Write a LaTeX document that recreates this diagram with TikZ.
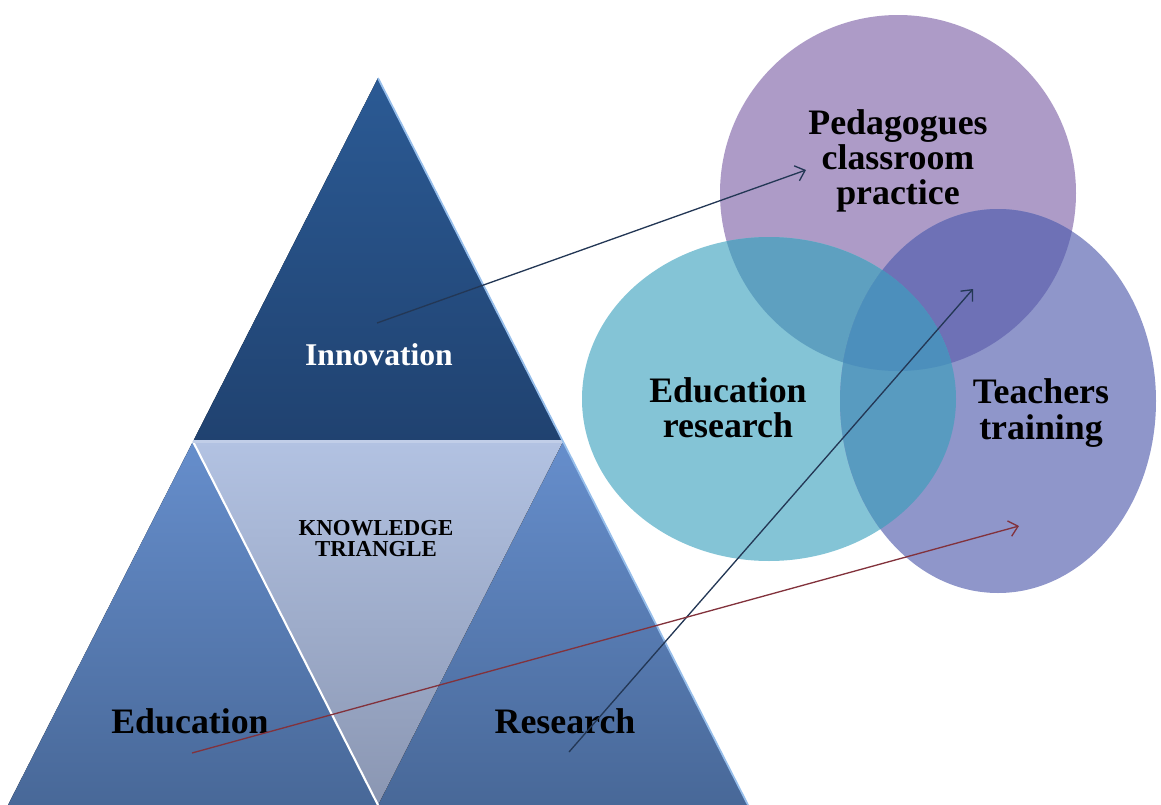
\documentclass[tikz,border=0pt]{standalone}
\usepackage{fontspec}
\setmainfont{Liberation Serif}
\usetikzlibrary{arrows,arrows.meta}
\usetikzlibrary{backgrounds,calc,positioning}

\definecolor{innoTop}{RGB}{43,90,148}
\definecolor{innoBot}{RGB}{32,66,112}
\definecolor{sideTop}{RGB}{102,142,204}
\definecolor{sideBot}{RGB}{72,104,152}
\definecolor{midTop}{RGB}{178,194,226}
\definecolor{midBot}{RGB}{138,150,178}
\definecolor{rimBlue}{RGB}{150,190,235}
\definecolor{pedC}{RGB}{173,155,199}
\definecolor{eduC}{RGB}{132,196,214}
\definecolor{teaC}{RGB}{143,150,202}
\definecolor{pedEdu}{RGB}{94,160,192}
\definecolor{pedTea}{RGB}{110,113,182}
\definecolor{eduTea}{RGB}{88,155,192}
\definecolor{allC}{RGB}{76,143,188}
\definecolor{navyA}{RGB}{35,55,85}
\definecolor{redA}{RGB}{130,50,60}

\tikzset{
    bareA/.style={draw=#1, line width=0.75pt, -{Straight Barb[length=5pt,width=9pt]}},
    bareA/.default={navyA}
}

\begin{document}
\begin{tikzpicture}[x=0.02cm, y=-0.02cm]
    \tikzstyle{every node}=[font=\bfseries, inner sep=0pt];
    \useasboundingbox (0,0) rectangle (1161,805);
    \def \pedPath {(898,193) circle [radius=178]}
    \def \eduPath {(769,399) ellipse [x radius=187, y radius=162]}
    \def \teaPath {(998,401) ellipse [x radius=158, y radius=192]}
    % knowledge triangle
    \coordinate (t1) at (378,78);
    \coordinate (t2) at (8,805);
    \coordinate (t3) at (748,805);
    \coordinate (m12) at ($(t1)!0.5!(t2)$);
    \coordinate (m13) at ($(t1)!0.5!(t3)$);
    \coordinate (m23) at ($(t2)!0.5!(t3)$);
    \fill[top color=innoTop, bottom color=innoBot] (t1) -- (m12) -- (m13) -- cycle;
    \fill[top color=sideTop, bottom color=sideBot] (m12) -- (t2) -- (m23) -- cycle;
    \fill[top color=sideTop, bottom color=sideBot] (m13) -- (m23) -- (t3) -- cycle;
    \fill[top color=midTop, bottom color=midBot] (m12) -- (m13) -- (m23) -- cycle;
    \draw[white, line width=1.2pt] (m12) -- (m23);
    \draw[midTop!80!white, line width=1.5pt] (m12) -- (m13);
    \draw[rimBlue, line width=1pt] (t1) -- (t3);
    % three circles
    \fill[pedC] \pedPath;
    \fill[eduC] \eduPath;
    \fill[teaC] \teaPath;
    \begin{scope}
        \clip \pedPath;
        \fill[pedEdu] \eduPath;
        \fill[pedTea] \teaPath;
        \clip \eduPath;
        \fill[allC] \teaPath;
    \end{scope}
    \begin{scope}
        \clip \eduPath;
        \clip \teaPath;
        \fill[eduTea] ($(769,399)+(-200,-200)$) rectangle ($(998,401)+(200,200)$);
        \clip \pedPath;
        \fill[allC] (600,150) rectangle (1160,600);
    \end{scope}
    % labels
    \node[white, font=\fontsize{18}{18}\selectfont\bfseries, anchor=base] (inno) at (379,365) {Innovation};
    \node[font=\fontsize{13}{12}\selectfont\bfseries, align=center] (know) at (376,539) {KNOWLEDGE\\TRIANGLE};
    \node[font=\fontsize{20.4}{20.4}\selectfont\bfseries, anchor=base] (educ) at (190,733) {Education};
    \node[font=\fontsize{20.4}{20.4}\selectfont\bfseries, anchor=base] (rese) at (565,733) {Research};
    \node[font=\fontsize{20.4}{20}\selectfont\bfseries, align=center] (peda) at (898,161) {Pedagogues\\classroom\\practice};
    \node[font=\fontsize{20.4}{20}\selectfont\bfseries, align=center] (edre) at (728,408) {Education\\research};
    \node[font=\fontsize{20.4}{20}\selectfont\bfseries, align=center] (teac) at (1041,413) {Teachers\\training};
    % arrows
    \coordinate (a1) at (377,323);
    \coordinate (b1) at (806,170);
    \coordinate (a2) at (569,752);
    \coordinate (b2) at (973,289);
    \coordinate (a3) at (192,753);
    \coordinate (b3) at (1019,526);
    \draw[bareA] (a1) -- (b1);
    \draw[bareA] (a2) -- (b2);
    \draw[bareA=redA] (a3) -- (b3);
\end{tikzpicture}
\end{document}
